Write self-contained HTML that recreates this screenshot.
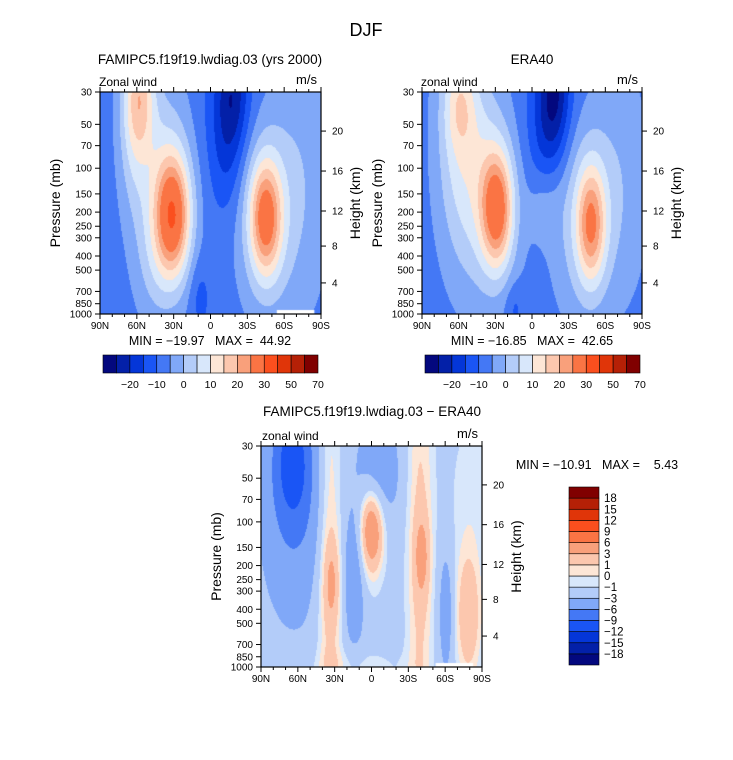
<!DOCTYPE html>
<html><head><meta charset="utf-8"><style>
body{margin:0;background:#fff;width:733px;height:760px;overflow:hidden;position:relative;font-family:"Liberation Sans",sans-serif}
canvas{position:absolute}
svg{position:absolute;left:0;top:0}
text{white-space:pre}
</style></head><body>
<canvas id="c1" width="221" height="222" style="left:100px;top:92px"></canvas>
<canvas id="c2" width="220" height="222" style="left:422px;top:92px"></canvas>
<canvas id="c3" width="221" height="221" style="left:261px;top:446px"></canvas>
<svg id="ov" width="733" height="760"></svg>
<script>
// ---- data ----
const colors=["#03087e","#0320a8","#0436d8","#1a55f5","#4478f5","#80a8f8","#b3ccf9","#d8e7fb","#fde6d6","#fcc7ae","#f9a07b","#fa7444","#fb4f1e","#e03509","#b52006","#800000"];
const thrAbs=[-20,-15,-10,-5,0,5,10,15,20,25,30,40,50,60,70];
const thrDiff=[-18,-15,-12,-9,-6,-3,-1,0,1,3,6,9,12,15,18];
const barLabelsAbs=["-20","-10","0","10","20","30","50","70"];
const barLabelsDiff=["18","15","12","9","6","3","1","0","−1","−3","−6","−9","−12","−15","−18"];
const latLabels=["90N","60N","30N","0","30S","60S","90S"];
const presLabels=[30,50,70,100,150,200,250,300,400,500,700,850,1000];
const heightLabels=[4,8,12,16,20];
const heightFrac=[0.86,0.694,0.536,0.356,0.176];
// blobs: u (0=90N..1=90S), v (0=30mb..1=1000mb), su, sv, amplitude (m/s)
const m_u=[0.33,0.29,0.15,0.18,0.75,0.75,0.92,0.6,0.58,0.45,0.57,0.24];
const m_v=[0.56,0.45,0.15,0.0,0.57,0.55,0.4,0.0,0.1,0.92,0.3,0.75];
const m_su=[0.055,0.09,0.05,0.05,0.05,0.09,0.1,0.05,0.09,0.035,0.05,0.06];
const m_sv=[0.19,0.34,0.28,0.2,0.18,0.3,0.45,0.18,0.25,0.12,0.2,0.2];
const m_a=[32,13,9,18,26,12,6,-12,-5,-5,-5,4];
const e_u=[0.34,0.3,0.17,0.17,0.77,0.74,0.55,0.6,0.58,0.42,0.92,0.55];
const e_v=[0.53,0.45,0.05,0.2,0.6,0.55,0.5,0.0,0.1,0.97,0.4,0.25];
const e_su=[0.05,0.1,0.05,0.08,0.045,0.1,0.05,0.05,0.1,0.03,0.1,0.05];
const e_sv=[0.18,0.35,0.15,0.38,0.18,0.32,0.12,0.2,0.25,0.08,0.4,0.15];
const e_a=[30,12,10,12,23,12,4,-16,-5,-5,5,-3];
const d_u=[0.14,0.15,0.31,0.32,0.42,0.5,0.5,0.53,0.72,0.73,0.84,0.94,0.95,0.45];
const d_v=[0.05,0.25,0.5,0.62,0.6,0.38,0.4,0.12,0.5,0.5,0.75,0.78,0.2,1.0];
const d_su=[0.06,0.1,0.042,0.028,0.035,0.035,0.05,0.07,0.045,0.025,0.025,0.045,0.08,0.15];
const d_sv=[0.2,0.35,0.8,0.14,0.22,0.12,0.2,0.18,0.8,0.13,0.2,0.22,0.3,0.06];
const d_a=[-6,-4,3.5,3,-3.5,6,2.5,-3,3.5,3,-3,4.5,1.5,1.5];

function field(u,v,U,V,SU,SV,A,base){let s=base;for(let i=0;i<U.length;i++){const du=u-U[i],dv=v-V[i];s+=A[i]*Math.exp(-du*du/(2*SU[i]*SU[i])-dv*dv/(2*SV[i]*SV[i]));}return s;}
function idx(val,thr){let k=0;for(const t of thr)if(val>=t)k++;return k;}
function hex(c){return[parseInt(c.slice(1,3),16),parseInt(c.slice(3,5),16),parseInt(c.slice(5,7),16)];}
const rgb=colors.map(hex);
function draw(id,U,V,SU,SV,A,thr,hole,base){
 const c=document.getElementById(id),ctx=c.getContext('2d'),w=c.width,h=c.height;
 const im=ctx.createImageData(w,h);
 for(let y=0;y<h;y++)for(let x=0;x<w;x++){
  const u=x/(w-1),v=y/(h-1);const col=rgb[idx(field(u,v,U,V,SU,SV,A,base),thr)];
  const p=(y*w+x)*4;im.data[p]=col[0];im.data[p+1]=col[1];im.data[p+2]=col[2];im.data[p+3]=255;}
 ctx.putImageData(im,0,0);
 if(hole){ctx.fillStyle="#fff";ctx.fillRect(hole[0]*w,h-4,(hole[1]-hole[0])*w,4);}
}
draw('c1',m_u,m_v,m_su,m_sv,m_a,thrAbs,[0.8,0.97],-2.5);
draw('c2',e_u,e_v,e_su,e_sv,e_a,thrAbs,null,-2.5);
draw('c3',d_u,d_v,d_su,d_sv,d_a,thrDiff,[0.79,0.96],-2);

const NS="http://www.w3.org/2000/svg",ov=document.getElementById('ov');
function el(tag,at,txt){const e=document.createElementNS(NS,tag);for(const k in at)e.setAttribute(k,at[k]);if(txt!==undefined)e.textContent=txt;ov.appendChild(e);return e;}
function txt(x,y,s,size,anchor,name,rot){const e=el('text',{x:x,y:y,'font-size':size,'text-anchor':anchor||'middle',fill:'#000'},s);
 
 
 if(rot)e.setAttribute('transform','rotate(-90 '+x+' '+y+')');return e;}
function panel(x0,y0,w,h,p){
 const f=el('rect',{x:x0,y:y0,width:w,height:h,fill:'none',stroke:'#000','stroke-width':1.2});
 
 
 for(let i=0;i<=18;i++){const x=x0+w*i/18,L=i%3==0?5:3;
  el('line',{x1:x,y1:y0+h,x2:x,y2:y0+h+L,stroke:'#000'});el('line',{x1:x,y1:y0,x2:x,y2:y0-L,stroke:'#000'});}
 latLabels.forEach((s,i)=>{txt(x0+w*i/6,y0+h+15,s,10,'middle',p+'-x-tick-'+s);});
 const lr=Math.log(1000/30);
 presLabels.forEach(pv=>{const y=y0+h*Math.log(pv/30)/lr;el('line',{x1:x0-5,y1:y,x2:x0,y2:y,stroke:'#000'});
  txt(x0-8,y+3.5,String(pv),10,'end',p+'-y-tick-'+pv);});
 heightLabels.forEach((z,i)=>{const y=y0+h*heightFrac[i];el('line',{x1:x0+w,y1:y,x2:x0+w+5,y2:y,stroke:'#000'});
  txt(x0+w+11,y+3.5,String(z),10,'start',p+'-height-tick-'+z);});
 txt(x0-40,y0+h/2,'Pressure (mb)',14,'middle',p+'-y-axis-title',true);
 txt(x0+w+39,y0+h/2,'Height (km)',14,'middle',p+'-height-axis-title',true);
 txt(x0+w-4,y0-8,'m/s',13,'end',p+'-units');
}
panel(100,92,221,222,'model');panel(422,92,220,222,'era40');panel(261,446,221,221,'diff');
txt(366,36,'DJF',18,'middle','main-title');
txt(210,64,'FAMIPC5.f19f19.lwdiag.03 (yrs 2000)',13.5,'middle','model-title');
txt(532,64,'ERA40',13.5,'middle','era40-title');
txt(372,416,'FAMIPC5.f19f19.lwdiag.03 − ERA40',13.5,'middle','diff-title');
txt(99,86,'Zonal wind',12,'start','model-variable-label');
txt(421,86,'zonal wind',12,'start','era40-variable-label');
txt(262,440,'zonal wind',12,'start','diff-variable-label');
txt(210,345,'MIN = −19.97   MAX =  44.92',12.5,'middle','model-min-max');
txt(532,345,'MIN = −16.85   MAX =  42.65',12.5,'middle','era40-min-max');
txt(597,469,'MIN = −10.91   MAX =    5.43',12.5,'middle','diff-min-max');
function hbar(x0,y0,w,h,p){const bw=w/16;
 colors.forEach((c,i)=>{const r=el('rect',{x:x0+i*bw,y:y0,width:bw,height:h,fill:c,stroke:'#000','stroke-width':0.6});
  
  });
 barLabelsAbs.forEach((s,i)=>{txt(x0+bw*(2*i+2),y0+h+15,s.replace('-','−'),10.5,'middle',p+'-colorbar-label');});}
hbar(103,355,215,18,'model');hbar(425,355,215,18,'era40');
(function(){const x0=569,y0=487,w=30,h=178,bh=h/16;
 colors.forEach((c,i)=>{const r=el('rect',{x:x0,y:y0+h-(i+1)*bh,width:w,height:bh,fill:c,stroke:'#000','stroke-width':0.6});
  
  });
 barLabelsDiff.forEach((s,i)=>{txt(x0+w+5,y0+bh*(i+1)+4,s,11.5,'start','diff-colorbar-label');});})();
</script>
</body></html>
